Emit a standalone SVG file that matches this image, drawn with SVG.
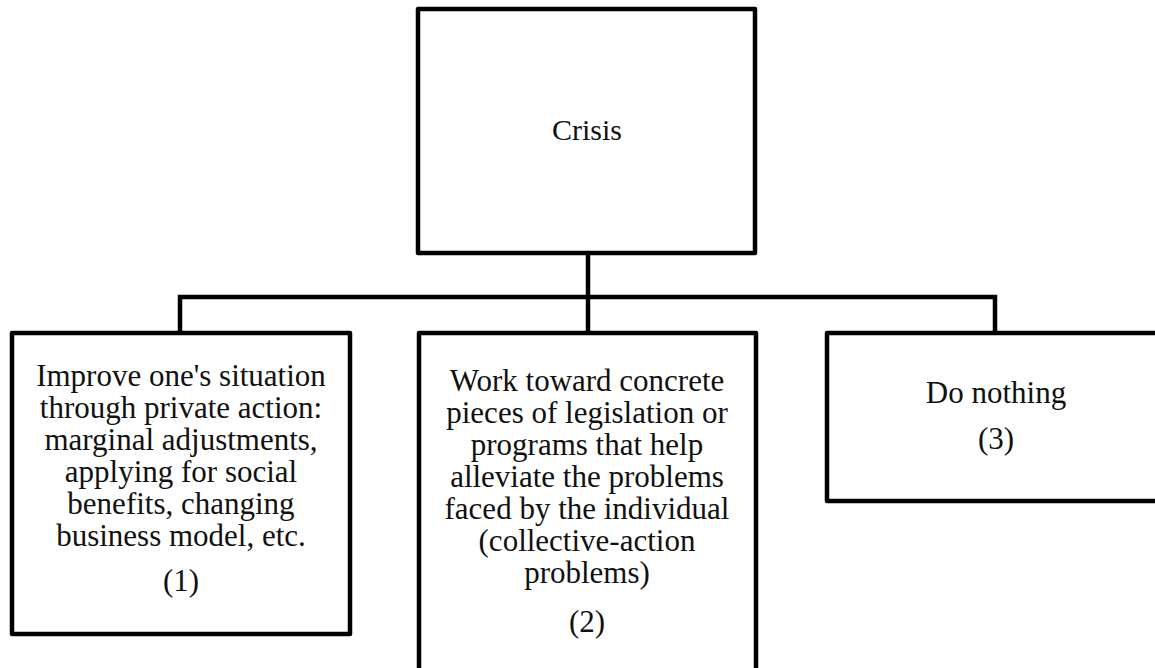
<svg xmlns="http://www.w3.org/2000/svg" width="1155" height="668" viewBox="0 0 1155 668">
<style>
.box{fill:#fff;stroke:#000;stroke-width:4.5;stroke-linejoin:round}
.conn{fill:none;stroke:#000;stroke-width:4.5}
text{font-family:"Liberation Serif","Times New Roman",serif;font-size:31px;fill:#111;text-anchor:middle}
</style>
<rect width="1155" height="668" fill="#fff"/>
<g id="connectors">
<path class="conn" d="M588 253 V333"/>
<path class="conn" d="M180 333 V297 H995 V333"/>
</g>
<g id="crisis">
<rect class="box" x="418" y="9" width="337" height="244"/>
<text x="587" y="140" style="font-size:30px">Crisis</text>
</g>
<g id="option1">
<rect class="box" x="12" y="333" width="338" height="301"/>
<text x="181" y="386">Improve one's situation</text>
<text x="181" y="418">through private action:</text>
<text x="181" y="450">marginal adjustments,</text>
<text x="181" y="482">applying for social</text>
<text x="181" y="514">benefits, changing</text>
<text x="181" y="546">business model, etc.</text>
<text x="181" y="591">(1)</text>
</g>
<g id="option2">
<rect class="box" x="419" y="333" width="337" height="345"/>
<text x="587" y="391">Work toward concrete</text>
<text x="587" y="423">pieces of legislation or</text>
<text x="587" y="455">programs that help</text>
<text x="587" y="487">alleviate the problems</text>
<text x="587" y="519">faced by the individual</text>
<text x="587" y="551">(collective-action</text>
<text x="587" y="583">problems)</text>
<text x="587" y="632">(2)</text>
</g>
<g id="option3">
<rect class="box" x="827" y="333" width="340" height="168"/>
<text x="996" y="403">Do nothing</text>
<text x="996" y="449">(3)</text>
</g>
</svg>
